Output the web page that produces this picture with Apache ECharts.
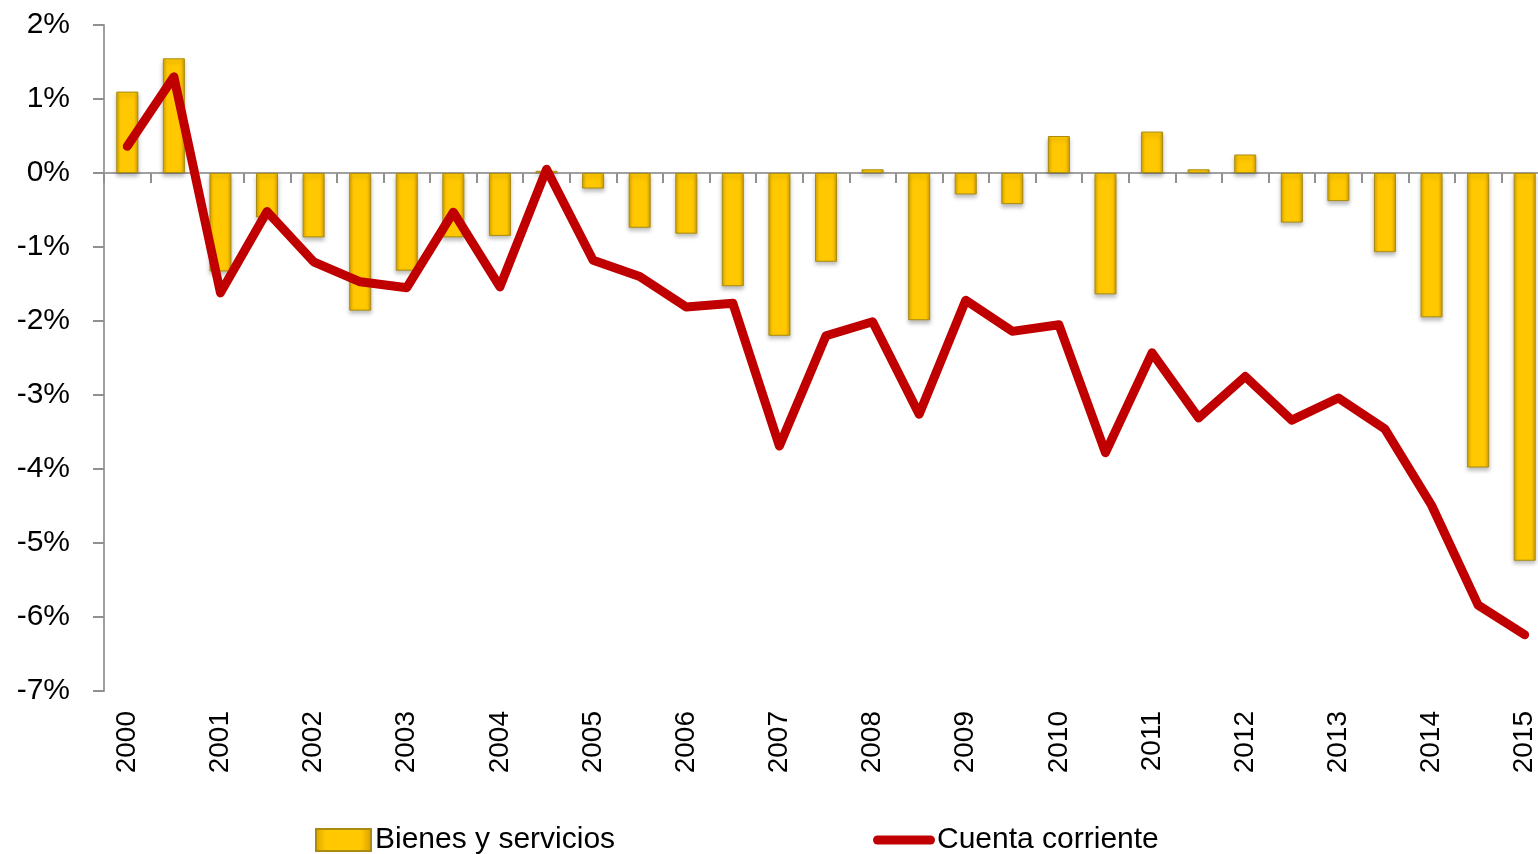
<!DOCTYPE html>
<html>
<head>
<meta charset="utf-8">
<script src="https://cdn.jsdelivr.net/npm/echarts@6/dist/echarts.min.js"></script>
<style>
html,body{margin:0;padding:0;background:#fff;}
#chart{width:1538px;height:854px;}
</style>
</head>
<body>
<div id="chart"></div>
<script>
// Half-year periods 2000 S1 .. 2015 S1
var categories = [
  '2000 S1','2000 S2','2001 S1','2001 S2','2002 S1','2002 S2','2003 S1','2003 S2',
  '2004 S1','2004 S2','2005 S1','2005 S2','2006 S1','2006 S2','2007 S1','2007 S2',
  '2008 S1','2008 S2','2009 S1','2009 S2','2010 S1','2010 S2','2011 S1','2011 S2',
  '2012 S1','2012 S2','2013 S1','2013 S2','2014 S1','2014 S2','2015 S1'
];
// Bienes y servicios (%)
var bienesServicios = [
  1.10, 1.55, -1.33, -0.60, -0.87, -1.86, -1.32, -0.87,
  -0.85, 0.03, -0.21, -0.74, -0.82, -1.53, -2.20, -1.20,
  0.05, -1.99, -0.29, -0.42, 0.50, -1.64, 0.56, 0.05,
  0.25, -0.67, -0.38, -1.07, -1.95, -3.98, -5.24
];
// Cuenta corriente (%)
var cuentaCorriente = [
  0.36, 1.30, -1.62, -0.52, -1.20, -1.47, -1.55, -0.53,
  -1.54, 0.05, -1.18, -1.40, -1.81, -1.76, -3.69, -2.20,
  -2.01, -3.26, -1.72, -2.14, -2.05, -3.78, -2.43, -3.31,
  -2.75, -3.34, -3.04, -3.46, -4.49, -5.84, -6.24
];
var yMin = -7, yMax = 2, yStep = 1;

var FONT = 'Liberation Sans, Arial, sans-serif';
var chart = echarts.init(document.getElementById('chart'), null, {renderer:'canvas'});
var option = {
  backgroundColor: '#ffffff',
  animation: false,
  grid: {left: 104, width: 1444, top: 25, bottom: 163, containLabel: false, outerBoundsMode: 'none'},
  legend: [
    {
      data: [{name: 'Bienes y servicios', icon: 'rect'}],
      left: 315, top: 825, padding: 0,
      itemWidth: 55, itemHeight: 22, itemGap: 4,
      textStyle: {fontFamily: FONT, fontSize: 30, color: '#000', lineHeight: 30, padding: [0,0,0,-1]}
    },
    {
      data: [{name: 'Cuenta corriente', icon: 'path://M4.5,0 L57.5,0 A4.5,4.5 0 0 1 57.5,9 L4.5,9 A4.5,4.5 0 0 1 4.5,0 Z'}],
      left: 873, top: 825, padding: 0,
      itemWidth: 62, itemHeight: 9,
      textStyle: {fontFamily: FONT, fontSize: 30, color: '#000', lineHeight: 30, padding: [0,0,0,-3]}
    }
  ],
  xAxis: [
    {
      type: 'category',
      data: categories,
      boundaryGap: true,
      axisLine: {show: true, onZero: true, lineStyle: {color: '#A0A0A0', width: 2}},
      axisTick: {show: true, inside: false, length: 10, interval: 0, lineStyle: {color: '#909090', width: 2}},
      axisLabel: {show: false},
      splitLine: {show: false}
    },
    {
      type: 'category',
      data: categories,
      position: 'bottom',
      boundaryGap: true,
      axisLine: {show: false, onZero: false},
      axisTick: {show: false},
      axisLabel: {
        show: true, interval: 1, rotate: 90, margin: 20,
        fontFamily: FONT, fontSize: 28, color: '#000',
        formatter: function (v) { return v.slice(0, 4); }
      },
      splitLine: {show: false}
    }
  ],
  yAxis: {
    type: 'value',
    min: yMin, max: yMax, interval: yStep,
    axisLine: {show: true, lineStyle: {color: '#A0A0A0', width: 2}},
    axisTick: {show: true, inside: false, length: 11, lineStyle: {color: '#909090', width: 2}},
    splitLine: {show: false},
    axisLabel: {
      margin: 34, fontFamily: FONT, fontSize: 30, color: '#000',
      formatter: function (v) { return Math.round(v) + '%'; }
    }
  },
  series: [
    {
      name: 'Bienes y servicios',
      type: 'bar',
      xAxisIndex: 0,
      data: bienesServicios,
      barWidth: 22,
      itemStyle: {
        color: new echarts.graphic.LinearGradient(0, 0, 1, 0, [
          {offset: 0, color: '#D9A300'},
          {offset: 0.18, color: '#FFC800'},
          {offset: 0.82, color: '#FFC800'},
          {offset: 1, color: '#D49C00'}
        ]),
        borderColor: '#A88C10',
        borderWidth: 1,
        shadowColor: 'rgba(0,0,0,0.25)',
        shadowBlur: 4,
        shadowOffsetY: 3
      },
      z: 2
    },
    {
      name: 'Cuenta corriente',
      type: 'line',
      xAxisIndex: 0,
      data: cuentaCorriente,
      symbol: 'none',
      lineStyle: {color: '#C00000', width: 9, cap: 'round', join: 'round'},
      itemStyle: {color: '#C00000'},
      z: 5
    }
  ]
};
chart.setOption(option);
</script>
</body>
</html>
